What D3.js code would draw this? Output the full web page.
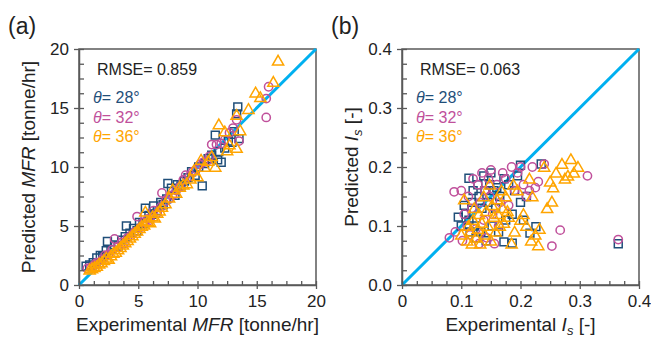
<!DOCTYPE html>
<html>
<head>
<meta charset="utf-8">
<script src="https://cdn.jsdelivr.net/npm/d3@7"></script>
<style>
  body { margin: 0; background: #fff; }
  svg { font-family: "Liberation Sans", Arial, sans-serif; }
</style>
</head>
<body>
<svg id="chart" width="651" height="339"></svg>
<script>
// ---- data: [experimental, predicted] ----
const mfr28 = [[0.6,1.6],[0.9,1.7],[1.2,1.9],[1.5,2.3],[1.8,2.5],[2.0,2.4],[2.3,2.9],[2.4,3.7],[2.7,3.0],[3.0,3.4],
  [3.3,3.3],[3.6,3.8],[3.9,4.1],[4.0,5.0],[4.3,4.4],[4.6,4.8],[4.9,4.6],[5.1,5.3],[5.4,5.2],[5.6,6.5],
  [5.9,5.9],[6.2,6.0],[6.3,6.7],[6.6,6.3],[6.9,7.0],[7.1,6.8],[7.4,7.3],[7.5,8.6],[7.8,8.2],[8.1,7.6],
  [8.3,8.5],[8.6,8.4],[8.9,8.8],[9.2,9.1],[9.5,9.6],[9.8,9.3],[10.1,10.0],[10.4,8.4],[10.6,10.3],[10.9,10.7],
  [11.2,11.0],[11.5,12.7],[11.7,10.6],[11.8,11.3],[12.0,10.4],[12.3,11.6],[12.6,12.2],[12.9,12.1],[13.1,13.0],[13.4,15.1],
  [13.5,12.4],[13.3,14.5]];
const mfr32 = [[0.7,1.4],[1.0,1.5],[1.3,1.7],[1.5,1.9],[1.7,1.8],[2.0,2.2],[2.2,2.5],[2.5,2.6],[2.8,3.0],[3.0,3.9],
  [3.3,3.2],[3.6,3.6],[3.8,3.5],[4.1,4.0],[4.4,4.2],[4.7,4.5],[4.9,5.8],[5.2,4.9],[5.5,5.3],[5.8,5.6],
  [6.0,5.5],[6.3,6.3],[6.6,6.1],[6.9,6.6],[7.0,7.8],[7.3,7.1],[7.6,7.3],[7.9,7.6],[8.2,8.0],[8.5,8.3],
  [8.8,8.9],[9.0,9.3],[9.3,9.2],[9.6,9.6],[9.9,9.8],[10.2,10.2],[10.5,10.4],[10.8,10.5],[11.0,10.9],[11.2,11.9],
  [11.6,11.9],[12.0,12.0],[12.3,12.3],[12.7,12.9],[13.0,13.3],[13.5,12.2],[13.3,14.0],[15.8,14.2],[16.0,16.8],[15.8,15.8]];
const mfr36 = [[0.9,1.3],[1.1,1.4],[1.3,1.5],[1.5,1.6],[1.7,1.8],[1.9,1.9],[2.1,2.1],[2.3,2.3],[2.5,2.2],[2.7,2.5],
  [2.9,2.7],[3.1,2.8],[3.3,3.0],[3.5,3.2],[3.7,3.4],[3.9,3.6],[4.1,3.8],[4.3,4.0],[4.5,4.2],[4.7,4.4],
  [4.9,4.6],[5.1,4.8],[5.3,5.0],[5.5,5.1],[5.6,6.2],[5.8,5.4],[6.0,5.3],[6.2,5.8],[6.4,5.7],[6.6,6.1],
  [6.8,6.3],[7.0,6.6],[7.3,6.9],[7.6,7.4],[7.9,8.1],[8.2,7.8],[8.5,8.3],[8.8,8.5],[9.1,8.6],[9.4,9.0],
  [9.7,9.7],[10.0,9.2],[10.3,10.6],[10.6,10.0],[10.9,10.5],[11.2,10.9],[11.5,10.0],[11.8,13.6],[12.3,13.0],[12.7,11.9],
  [12.5,11.4],[13.3,11.6],[13.6,13.1],[13.3,14.4],[14.3,14.9],[14.9,16.3],[15.3,15.9],[16.4,17.2],[16.8,19.0]];

const is28 = [[0.095,0.115],[0.100,0.100],[0.105,0.135],[0.108,0.120],[0.113,0.181],[0.113,0.110],[0.115,0.090],[0.118,0.140],
  [0.120,0.160],[0.122,0.100],[0.125,0.080],[0.128,0.170],[0.130,0.150],[0.133,0.090],[0.135,0.130],[0.138,0.185],
  [0.140,0.160],[0.142,0.075],[0.145,0.140],[0.148,0.170],[0.150,0.190],[0.152,0.100],[0.155,0.160],[0.158,0.130],
  [0.160,0.165],[0.163,0.090],[0.165,0.150],[0.172,0.073],[0.172,0.180],[0.175,0.110],[0.180,0.170],[0.186,0.071],
  [0.186,0.120],[0.190,0.160],[0.195,0.185],[0.200,0.203],[0.205,0.110],[0.210,0.150],[0.216,0.088],[0.226,0.099],
  [0.235,0.205],[0.200,0.140],[0.365,0.070]];
const is32 = [[0.080,0.080],[0.088,0.158],[0.090,0.090],[0.100,0.160],[0.102,0.075],[0.105,0.120],[0.110,0.100],[0.112,0.150],
  [0.115,0.085],[0.118,0.130],[0.120,0.180],[0.125,0.095],[0.128,0.170],[0.130,0.070],[0.132,0.140],[0.135,0.190],
  [0.138,0.110],[0.140,0.160],[0.143,0.080],[0.146,0.180],[0.148,0.150],[0.150,0.195],[0.153,0.120],[0.156,0.070],
  [0.160,0.170],[0.163,0.100],[0.166,0.140],[0.170,0.190],[0.175,0.180],[0.180,0.135],[0.185,0.200],[0.190,0.160],
  [0.195,0.190],[0.200,0.200],[0.205,0.170],[0.210,0.150],[0.215,0.160],[0.220,0.200],[0.225,0.165],[0.230,0.175],
  [0.240,0.205],[0.253,0.066],[0.267,0.093],[0.313,0.185],[0.365,0.077]];
const is36 = [[0.100,0.085],[0.105,0.145],[0.110,0.075],[0.112,0.100],[0.115,0.090],[0.118,0.070],[0.120,0.110],[0.122,0.130],
  [0.125,0.080],[0.128,0.095],[0.130,0.120],[0.132,0.070],[0.135,0.105],[0.138,0.150],[0.140,0.085],[0.142,0.125],
  [0.145,0.100],[0.148,0.170],[0.150,0.075],[0.152,0.135],[0.155,0.115],[0.158,0.090],[0.160,0.145],[0.162,0.120],
  [0.165,0.100],[0.168,0.160],[0.170,0.130],[0.172,0.105],[0.175,0.150],[0.178,0.125],[0.180,0.115],[0.185,0.070],
  [0.188,0.170],[0.190,0.090],[0.195,0.160],[0.200,0.110],[0.205,0.120],[0.210,0.100],[0.215,0.180],[0.218,0.075],
  [0.220,0.150],[0.225,0.085],[0.230,0.067],[0.232,0.095],[0.240,0.200],[0.245,0.130],[0.250,0.175],[0.253,0.141],
  [0.255,0.165],[0.260,0.190],[0.270,0.205],[0.275,0.180],[0.280,0.185],[0.285,0.213],[0.290,0.190],[0.297,0.200]];

const mfrTicks = [0, 5, 10, 15, 20];
const isTicks = [0, 0.1, 0.2, 0.3, 0.4];
const seriesLabels = ["28°", "32°", "36°"];
const seriesColors = ["#1f4e79", "#c0509b", "#ffa500"];
const rmseValues = ["0.859", "0.063"];

const svg = d3.select("#chart");
const axisColor = "#595959";

function drawPanel(opt) {
  const x = d3.scaleLinear().domain(opt.domain).range([opt.left, opt.right]);
  const y = d3.scaleLinear().domain(opt.domain).range([opt.bottom, opt.top]);
  const g = svg.append("g");
  const step = opt.ticks[1] - opt.ticks[0];
  const minor = d3.range(opt.domain[0], opt.domain[1] + step / 8, step / 4)
    .filter((v, i) => i % 4 !== 0);

  // frame
  g.append("rect")
    .attr("x", opt.left).attr("y", opt.top)
    .attr("width", opt.right - opt.left).attr("height", opt.bottom - opt.top)
    .attr("fill", "none").attr("stroke", axisColor).attr("stroke-width", 1.5);

  // 1:1 line
  g.append("line")
    .attr("x1", x(opt.domain[0])).attr("y1", y(opt.domain[0]))
    .attr("x2", x(opt.domain[1])).attr("y2", y(opt.domain[1]))
    .attr("stroke", "#00b0f0").attr("stroke-width", 3);

  // markers
  const shapes = [d3.symbolSquare, d3.symbolCircle, d3.symbolTriangle];
  const sizes = [62, 54, 54];
  opt.series.forEach((data, i) => {
    g.append("g").selectAll("path").data(data).join("path")
      .attr("transform", d => `translate(${x(d[0])},${y(d[1]) + (i === 2 ? 1 : 0)})`)
      .attr("d", d3.symbol(shapes[i], sizes[i]))
      .attr("fill", "none")
      .attr("stroke", seriesColors[i])
      .attr("stroke-width", 1.5);
  });

  // x axis: major ticks cross the axis, minor ticks point inward
  const xa = g.append("g").attr("transform", `translate(0,${opt.bottom})`)
    .call(d3.axisBottom(x).tickValues(opt.ticks).tickFormat(opt.fmtX).tickSize(4).tickSizeOuter(0));
  xa.selectAll(".tick line").attr("y1", -4).attr("y2", 4);
  const xm = g.append("g").attr("transform", `translate(0,${opt.bottom})`)
    .call(d3.axisBottom(x).tickValues(minor).tickFormat("").tickSize(-4).tickSizeOuter(0));
  xm.select(".domain").remove();
  // y axis
  const ya = g.append("g").attr("transform", `translate(${opt.left},0)`)
    .call(d3.axisLeft(y).tickValues(opt.ticks).tickFormat(opt.fmtY).tickSize(4).tickSizeOuter(0));
  ya.selectAll(".tick line").attr("x1", -5).attr("x2", 5);
  const ym = g.append("g").attr("transform", `translate(${opt.left},0)`)
    .call(d3.axisLeft(y).tickValues(minor).tickFormat("").tickSize(-5).tickSizeOuter(0));
  ym.select(".domain").remove();

  g.selectAll(".domain").attr("stroke", axisColor).attr("stroke-width", 1.5);
  g.selectAll(".tick line").attr("stroke", axisColor).attr("stroke-width", 1.3);
  xa.selectAll(".tick text").attr("font-size", 17).attr("fill", "#222").attr("y", 10).attr("dy", "0.71em");
  ya.selectAll(".tick text").attr("font-size", 17).attr("fill", "#222").attr("x", -10);

  // axis titles
  const xt = g.append("text").attr("x", (opt.left + opt.right) / 2).attr("y", 331)
    .attr("text-anchor", "middle").attr("font-size", 19).attr("fill", "#222");
  opt.label(xt, "Experimental ");
  const yt = g.append("text")
    .attr("transform", `translate(${opt.left - 44},${(opt.top + opt.bottom) / 2}) rotate(-90)`)
    .attr("text-anchor", "middle").attr("font-size", 19).attr("fill", "#222");
  opt.label(yt, "Predicted ");

  // panel label
  g.append("text").attr("x", opt.left - 71).attr("y", 34)
    .attr("font-size", 23).attr("fill", "#222").text(opt.tag);

  // annotations
  const tx = opt.left + 18;
  g.append("text").attr("x", tx).attr("y", 75).attr("font-size", 16)
    .attr("fill", "#222").text("RMSE= " + opt.rmse);
  seriesLabels.forEach((s, i) => {
    const t = g.append("text").attr("x", tx - 4).attr("y", 103 + i * 19.5)
      .attr("font-size", 16).attr("fill", seriesColors[i]);
    t.append("tspan").attr("font-style", "italic").text("θ");
    t.append("tspan").text("= " + s);
  });
}

drawPanel({
  left: 79, right: 316, top: 49, bottom: 285,
  domain: [0, 20], ticks: mfrTicks, fmtX: d3.format("d"), fmtY: d3.format("d"),
  series: [mfr28, mfr32, mfr36], tag: "(a)", rmse: rmseValues[0],
  label: (t, pre) => {
    t.append("tspan").text(pre);
    t.append("tspan").attr("font-style", "italic").text("MFR");
    t.append("tspan").text(" [tonne/hr]");
  }
});

drawPanel({
  left: 402, right: 639, top: 49, bottom: 285,
  domain: [0, 0.4], ticks: isTicks,
  fmtX: d => d === 0 ? "0" : d3.format(".1f")(d), fmtY: d3.format(".1f"),
  series: [is28, is32, is36], tag: "(b)", rmse: rmseValues[1],
  label: (t, pre) => {
    t.append("tspan").text(pre);
    t.append("tspan").attr("font-style", "italic").text("I");
    t.append("tspan").attr("font-style", "italic").attr("font-size", 13).attr("dy", 4).text("s");
    t.append("tspan").attr("dy", -4).text(" [-]");
  }
});
</script>
</body>
</html>
